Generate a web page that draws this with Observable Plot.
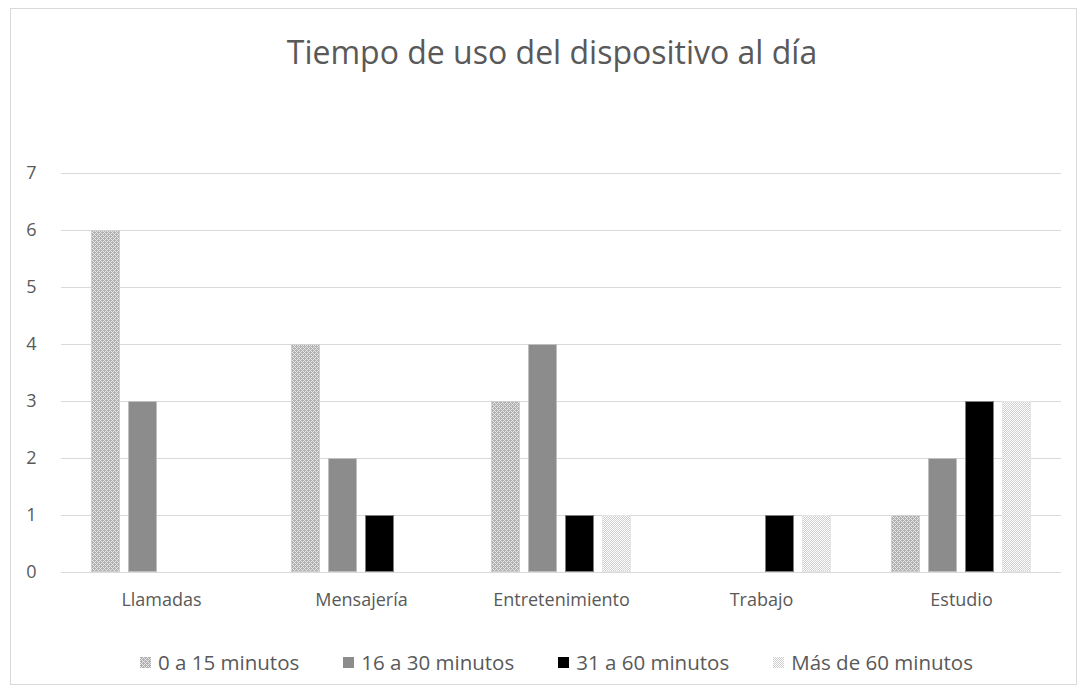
<!DOCTYPE html>
<html><head><meta charset="utf-8">
<script src="https://cdn.jsdelivr.net/npm/d3@7"></script>
<script src="https://cdn.jsdelivr.net/npm/@observablehq/plot@0.6"></script>
<style>
body{margin:0;background:#fff;font-family:"Open Sans",sans-serif;}
#wrap{position:relative;width:1084px;height:696px;overflow:hidden;}
#frame{position:absolute;left:10px;top:8px;width:1067px;height:677px;border:1px solid #d9d9d9;box-sizing:border-box;pointer-events:none;}
#title{position:absolute;left:0;width:1104px;top:30px;text-align:center;font-size:32px;color:#595959;}
#legend{position:absolute;left:140px;top:648px;display:flex;gap:44px;font-size:20.5px;color:#595959;white-space:nowrap;}
#legend .it{display:flex;align-items:center;gap:7px;}
#legend svg{display:block}
#chart{position:absolute;left:0;top:0;}
</style></head>
<body>
<div id="wrap"><div id="chart"></div><div id="frame"></div>
<div id="title">Tiempo de uso del dispositivo al día</div>
<div id="legend"></div></div>
<script>
const categories = ["Llamadas","Mensajería","Entretenimiento","Trabajo","Estudio"];
const seriesNames = ["0 a 15 minutos","16 a 30 minutos","31 a 60 minutos","Más de 60 minutos"];
const v0a15   = [6,4,3,0,1];
const v16a30  = [3,2,4,0,2];
const v31a60  = [0,1,1,1,3];
const vMas60  = [0,0,1,1,3];
const yTicks = [0,1,2,3,4,5,6,7];

const seriesValues = [v0a15, v16a30, v31a60, vMas60];
const data = [];
categories.forEach((c,i)=>seriesNames.forEach((s,j)=>{
  const v = seriesValues[j][i];
  if (v > 0) data.push({category:c, series:s, value:v});
}));

const fills = ["url(#p1)","#8c8c8c","#000000","url(#p4)"];
const strokes = ["#d0d0d0","#bfbfbf","#7f7f7f","#e6e6e6"];

const NS = "http://www.w3.org/2000/svg";
function makePattern(id, bg, fg, cells){
  const p = document.createElementNS(NS,"pattern");
  p.setAttribute("id",id); p.setAttribute("patternUnits","userSpaceOnUse");
  p.setAttribute("width",4); p.setAttribute("height",4);
  const r = document.createElementNS(NS,"rect");
  r.setAttribute("width",4); r.setAttribute("height",4); r.setAttribute("fill",bg);
  p.appendChild(r);
  for (const [x,y] of cells){
    const c = document.createElementNS(NS,"rect");
    c.setAttribute("x",x); c.setAttribute("y",y); c.setAttribute("width",1); c.setAttribute("height",1); c.setAttribute("fill",fg);
    p.appendChild(c);
  }
  return p;
}
function defsMark(){
  const d = document.createElementNS(NS,"defs");
  d.appendChild(makePattern("p1","#e6e6e6","#b0b0b0",[[0,0],[2,0],[1,1],[3,1],[0,2],[2,2],[1,3],[3,3],[1,0],[3,2]]));
  d.appendChild(makePattern("p4","#ffffff","#cfcfcf",[[0,0],[2,0],[1,1],[3,1],[0,2],[2,2],[1,3],[3,3]]));
  return d;
}

const chart = Plot.plot({
  width:1084, height:696,
  marginTop:173, marginBottom:124, marginLeft:60, marginRight:22,
  facet:{data, x:"category"},
  fx:{domain:categories, padding:0, label:null, tickSize:0, tickPadding:21},
  x:{domain:seriesNames, paddingInner:0.216, paddingOuter:0.81, axis:null},
  y:{domain:[0,7], ticks:yTicks, tickFormat:"d", tickSize:0, tickPadding:25, label:null},
  color:{type:"ordinal", domain:seriesNames, range:fills},
  style:{fontFamily:"Open Sans, sans-serif", fontSize:"18px", color:"#595959", overflow:"visible"},
  marks:[
    defsMark,
    Plot.ruleY(yTicks, {stroke:"#d9d9d9", strokeWidth:1, strokeOpacity:1}),
    Plot.barY(data, {x:"series", y:"value", fill:"series", stroke:d=>strokes[seriesNames.indexOf(d.series)], strokeWidth:1, inset:0.5})
  ]
});
document.getElementById("chart").appendChild(chart);

const leg = document.getElementById("legend");
seriesNames.forEach((s,j)=>{
  const it = document.createElement("div"); it.className="it";
  const sv = document.createElementNS(NS,"svg"); sv.setAttribute("width",11); sv.setAttribute("height",11);
  const r = document.createElementNS(NS,"rect"); r.setAttribute("width",11); r.setAttribute("height",11);
  r.setAttribute("fill", fills[j]); sv.appendChild(r);
  it.appendChild(sv);
  const t = document.createElement("span"); t.textContent = s; it.appendChild(t);
  leg.appendChild(it);
});
</script>
</body></html>
